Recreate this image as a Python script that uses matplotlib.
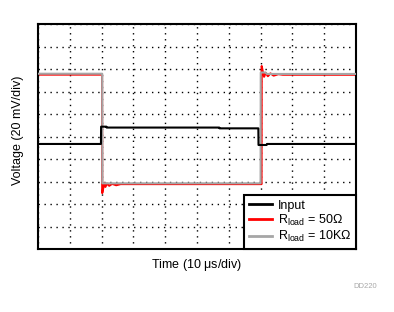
import matplotlib.pyplot as plt

plt.rcParams['font.family'] = ['Liberation Sans', 'DejaVu Sans']
plt.rcParams['mathtext.fontset'] = 'custom'
plt.rcParams['mathtext.rm'] = 'Liberation Sans'

# Traces (time in us, voltage in mV)
input_t = [0, 19.8, 19.85, 21.5, 21.6, 57.0, 57.1, 69.3, 69.35, 71.9, 72.0, 100]
input_v = [-6.3, -6.3, 9.1, 9.1, 8.3, 8.3, 7.6, 7.6, -7.2, -7.2, -6.3, -6.3]

r50_t = [0, 20.15, 20.2, 20.5, 20.8, 21.2, 21.7, 22.4, 23.3, 24.6, 26.0, 70.3, 70.35,
         70.7, 71.1, 71.6, 72.3, 73.1, 74.1, 75.6, 77.0, 100]
r50_v = [55.4, 55.4, -50.0, -46.0, -41.0, -44.5, -41.5, -43.5, -41.8, -43.0, -42.0, -42.0, 63.0,
         58.0, 53.5, 57.0, 54.0, 56.5, 54.5, 55.8, 55.3, 55.3]

r10k_t = [0, 20.2, 20.25, 70.0, 70.05, 71.5, 72.0, 100]
r10k_v = [56.2, 56.2, -41.3, -41.3, 57.3, 57.3, 56.0, 56.0]

fig = plt.figure(figsize=(3.94, 3.12), dpi=100)
ax = fig.add_axes([0.0964, 0.2010, 0.8071, 0.7205])

ax.plot(r50_t, r50_v, color='#ff0000', linewidth=1.5, label=r'R$_{\mathrm{load}}$ = 50$\Omega$', zorder=2)
ax.plot(r10k_t, r10k_v, color='#a6a6a6', linewidth=1.5, label=r'R$_{\mathrm{load}}$ = 10K$\Omega$', zorder=3)
ax.plot(input_t, input_v, color='black', linewidth=1.5, label='Input', zorder=4)

ax.set_xlim(0, 100)
ax.set_ylim(-100, 100)
ax.set_xticks(range(0, 101, 10))
ax.set_yticks(range(-100, 101, 20))
ax.tick_params(length=0, labelbottom=False, labelleft=False)
ax.grid(True, color='black', linewidth=1.0, linestyle=(0, (1, 3.3)))

for s in ax.spines.values():
    s.set_linewidth(1.5)

handles, labels = ax.get_legend_handles_labels()
order = [2, 0, 1]
leg = ax.legend([handles[i] for i in order], [labels[i] for i in order],
                loc='lower right', borderaxespad=0, fontsize=9, fancybox=False,
                framealpha=1, edgecolor='black', handlelength=1.8, handletextpad=0.45,
                labelspacing=0.1, borderpad=0.4)
leg.get_frame().set_linewidth(1.5)
for line in leg.get_lines():
    line.set_linewidth(2)

fig.text(197 / 394, 1 - 265 / 312, r'Time (10 $\mathrm{\mu}$s/div)', ha='center', va='center', fontsize=9)
fig.text(18 / 394, 1 - 130 / 312, 'Voltage (20 mV/div)', ha='center', va='center', rotation=90, fontsize=9)
fig.text(365 / 394, 1 - 286 / 312, 'DD220', ha='center', va='center', fontsize=5.5, color='#a8a8a8')

fig.savefig('out.png', dpi=100)
